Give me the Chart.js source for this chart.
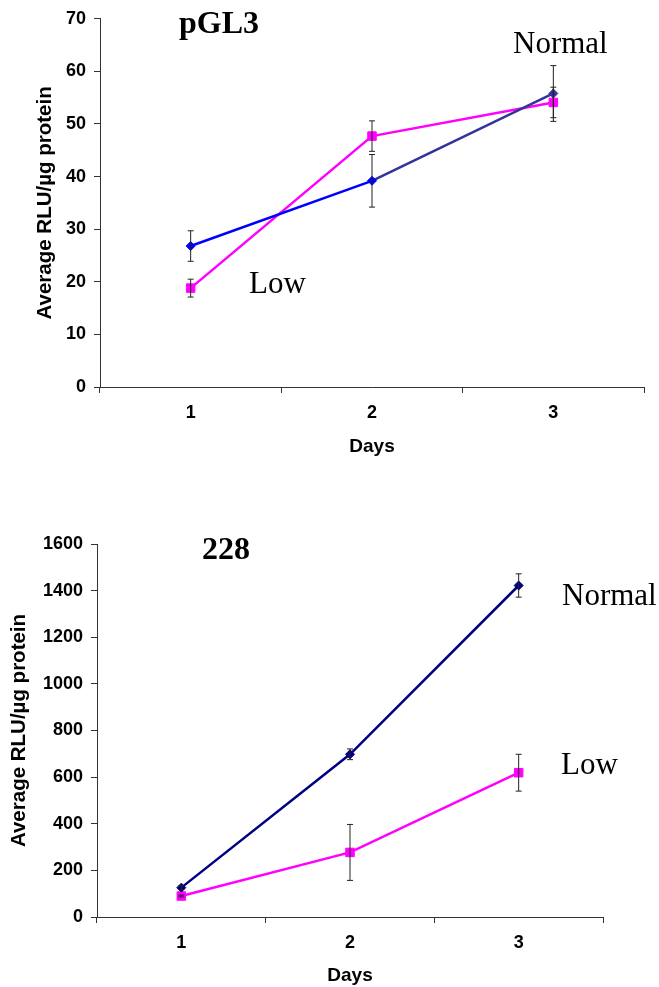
<!DOCTYPE html>
<html>
<head>
<meta charset="utf-8">
<script src="https://cdn.jsdelivr.net/npm/chart.js@4.4.1/dist/chart.umd.min.js"></script>
<style>
  body { margin: 0; background: #fff; }
  .box { position: absolute; left: 0; width: 659px; }
</style>
</head>
<body>
<div class="box" style="top:0;height:470px"><canvas id="top" width="659" height="470"></canvas></div>
<div class="box" style="top:480px;height:507px"><canvas id="bottom" width="659" height="507"></canvas></div>
<script>
// x categories
const days = ['1', '2', '3'];

// pGL3 panel
const pgl3Normal = [26.8, 39.2, 55.8];
const pgl3NormalErr = [2.9, 5.0, 5.3];
const pgl3Low = [18.8, 47.7, 54.1];
const pgl3LowErr = [1.7, 2.9, 2.9];
const pgl3Ticks = [0, 10, 20, 30, 40, 50, 60, 70];

// 228 panel
const r228Normal = [126, 698, 1422];
const r228NormalErr = [8, 23, 50];
const r228Low = [90, 277, 619];
const r228LowErr = [4, 120, 79];
const r228Ticks = [0, 200, 400, 600, 800, 1000, 1200, 1400, 1600];

const sans = '"Liberation Sans", Arial, sans-serif';
const serif = '"Liberation Serif", "Times New Roman", serif';
const axisColor = '#333';

// error bars, drawn through the chart scales
const errorBars = {
  id: 'errorBars',
  afterDatasetsDraw(chart) {
    const ctx = chart.ctx;
    const ys = chart.scales.y;
    chart.data.datasets.forEach((ds, i) => {
      const meta = chart.getDatasetMeta(i);
      meta.data.forEach((pt, j) => {
        const e = ds.err[j];
        if (!e) return;
        const top = ys.getPixelForValue(ds.data[j] + e);
        const bot = ys.getPixelForValue(ds.data[j] - e);
        ctx.save();
        ctx.strokeStyle = ds.errColor || '#111';
        ctx.lineWidth = 1;
        ctx.beginPath();
        ctx.moveTo(pt.x, top); ctx.lineTo(pt.x, bot);
        ctx.moveTo(pt.x - 3, top); ctx.lineTo(pt.x + 3, top);
        ctx.moveTo(pt.x - 3, bot); ctx.lineTo(pt.x + 3, bot);
        ctx.stroke();
        ctx.restore();
      });
    });
  }
};

// free text on the chart (panel title, series names)
const notes = {
  id: 'notes',
  afterDraw(chart, args, opts) {
    const ctx = chart.ctx;
    ctx.save();
    ctx.fillStyle = '#000';
    ctx.textBaseline = 'alphabetic';
    ctx.textAlign = 'left';
    opts.items.forEach(n => {
      ctx.font = n.font;
      ctx.fillText(n.text, n.x, n.y);
    });
    ctx.restore();
  }
};

function makeChart(id, o) {
  new Chart(document.getElementById(id), {
    type: 'line',
    data: { labels: days, datasets: o.datasets },
    plugins: [errorBars, notes],
    options: {
      responsive: false,
      animation: false,
      layout: { padding: o.padding },
      plugins: {
        legend: { display: false },
        tooltip: { enabled: false },
        notes: { items: o.notes }
      },
      scales: {
        x: {
          offset: true,
          grid: { offset: true, drawOnChartArea: false, tickLength: 6, color: axisColor },
          border: { color: axisColor, width: 1 },
          ticks: { color: '#000', font: { family: sans, size: 18, weight: 'bold' }, padding: o.xTickPad },
          title: { display: true, text: 'Days', color: '#000', font: { family: sans, size: 19, weight: 'bold' }, padding: { top: 0, bottom: 0 } },
          afterFit: s => { s.height = o.xHeight; }
        },
        y: {
          min: o.yTicks[0],
          max: o.yTicks[o.yTicks.length - 1],
          afterBuildTicks: s => { s.ticks = o.yTicks.map(v => ({ value: v })); },
          grid: { drawOnChartArea: false, tickLength: 6, color: axisColor },
          border: { color: axisColor, width: 1 },
          ticks: {
            color: '#000', font: { family: sans, size: 18, weight: 'bold' }, padding: 8,
            callback: v => String(v)
          },
          title: { display: true, text: 'Average RLU/\u00b5g protein', color: '#000', font: { family: sans, size: 20.5, weight: 'bold' }, padding: { top: o.yTitlePad, bottom: 0 } },
          afterFit: s => { s.width = o.yWidth; }
        }
      }
    }
  });
}

makeChart('top', {
  padding: { top: 16, right: 15, left: 0, bottom: 12 },
  xHeight: 71,
  yWidth: 100,
  xTickPad: 9,
  yTitlePad: 33,
  yTicks: pgl3Ticks,
  datasets: [
    {
      data: pgl3Normal, err: pgl3NormalErr, errColor: '#222',
      borderColor: '#0000ff', borderWidth: 2.5,
      segment: { borderColor: c => c.p0DataIndex === 1 ? '#333399' : '#0000ff' },
      pointStyle: 'rectRot', pointRadius: 4.5,
      pointBackgroundColor: ['#0000ff', '#0000ff', '#333399'],
      pointBorderColor: ['#0000ff', '#0000ff', '#333399'], pointBorderWidth: 1
    },
    {
      data: pgl3Low, err: pgl3LowErr, errColor: '#222',
      borderColor: '#ff00ff', borderWidth: 2.5,
      pointStyle: 'rect', pointRadius: 6,
      pointBackgroundColor: '#ff00ff', pointBorderColor: '#ff00ff', pointBorderWidth: 1
    }
  ],
  notes: [
    { text: 'pGL3', x: 179, y: 33, font: 'bold 32px ' + serif },
    { text: 'Normal', x: 513, y: 53, font: '31px ' + serif },
    { text: 'Low', x: 249, y: 293, font: '31px ' + serif }
  ]
});

makeChart('bottom', {
  padding: { top: 64, right: 56, left: 0, bottom: 0 },
  xHeight: 70,
  yWidth: 97,
  xTickPad: 9,
  yTitlePad: 7,
  yTicks: r228Ticks,
  datasets: [
    {
      data: r228Normal, err: r228NormalErr, errColor: '#222',
      borderColor: '#000080', borderWidth: 2.5,
      pointStyle: 'rectRot', pointRadius: 4.5,
      pointBackgroundColor: '#000080', pointBorderColor: '#000080', pointBorderWidth: 1
    },
    {
      data: r228Low, err: r228LowErr, errColor: '#222',
      borderColor: '#ff00ff', borderWidth: 2.5,
      pointStyle: 'rect', pointRadius: 6,
      pointBackgroundColor: '#ff00ff', pointBorderColor: '#ff00ff', pointBorderWidth: 1
    }
  ],
  notes: [
    { text: '228', x: 202, y: 79, font: 'bold 32px ' + serif },
    { text: 'Normal', x: 562, y: 125, font: '31px ' + serif },
    { text: 'Low', x: 561, y: 294, font: '31px ' + serif }
  ]
});
</script>
</body>
</html>
